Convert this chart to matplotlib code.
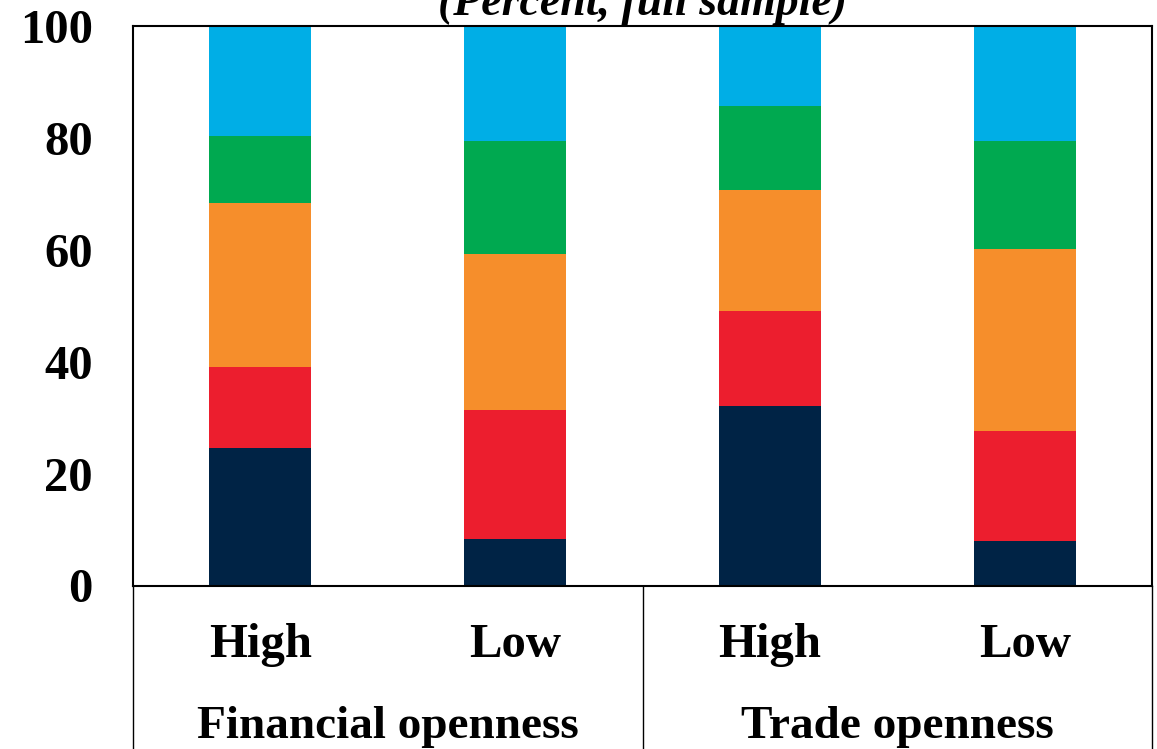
import numpy as np
import matplotlib
matplotlib.use('Agg')
import matplotlib.pyplot as plt

plt.rcParams['font.family'] = ['Liberation Serif', 'DejaVu Serif']
plt.rcParams['font.weight'] = 'bold'

# Data (percent shares, stacked bottom to top)
bar_labels = ['High', 'Low', 'High', 'Low']
groups = ['Financial openness', 'Trade openness']
series_1 = [24.6, 8.4, 32.1, 7.9]
series_2 = [14.5, 23.0, 16.9, 19.7]
series_3 = [29.3, 27.9, 21.7, 32.6]
series_4 = [12.0, 20.2, 15.0, 19.3]
series_5 = [19.6, 20.5, 14.3, 20.5]
colors = ['#002345', '#EC1E2E', '#F68E2B', '#00A950', '#00AEE6']
y_ticks = [0, 20, 40, 60, 80, 100]

fig = plt.figure(figsize=(11.57, 7.49), dpi=100)
ax = fig.add_axes([133 / 1157, (749 - 585.5) / 749, (1152 - 133) / 1157, (585.5 - 26) / 749])

x = np.arange(len(bar_labels))
bottom = np.zeros(len(bar_labels))
for vals, c in zip([series_1, series_2, series_3, series_4, series_5], colors):
    ax.bar(x, vals, width=0.4, bottom=bottom, color=c, linewidth=0)
    bottom += np.array(vals)

ax.set_xlim(-0.5, 3.5)
ax.set_ylim(0, 100)
ax.set_yticks(y_ticks)
ax.set_yticklabels([str(t) for t in y_ticks], fontsize=35, fontweight='bold')
ax.tick_params(axis='y', length=0, pad=29)
ax.set_xticks([])
for s in ax.spines.values():
    s.set_linewidth(1.5)
    s.set_color('black')

# category labels and group labels below the axis
trans = ax.get_xaxis_transform()
for xi, lab in zip(x, bar_labels):
    ax.text(xi, -0.1278, lab, transform=trans, ha='center', va='baseline',
            fontsize=35, fontweight='bold')
for gi, g in enumerate(groups):
    ax.text(2 * gi + 0.5, -0.2726, g, transform=trans, ha='center', va='baseline',
            fontsize=34, fontweight='bold')

# divider lines of the label table
for xd in [-0.5, 1.5, 3.5]:
    ax.plot([xd, xd], [0, -0.35], transform=trans, color='black', lw=1.0, clip_on=False)

fig.text(642.5 / 1157, 1 - 15 / 749, '(Percent, full sample)', ha='center', va='baseline',
         fontsize=33, fontweight='bold', fontstyle='italic')

fig.savefig('out.png', dpi=100)
